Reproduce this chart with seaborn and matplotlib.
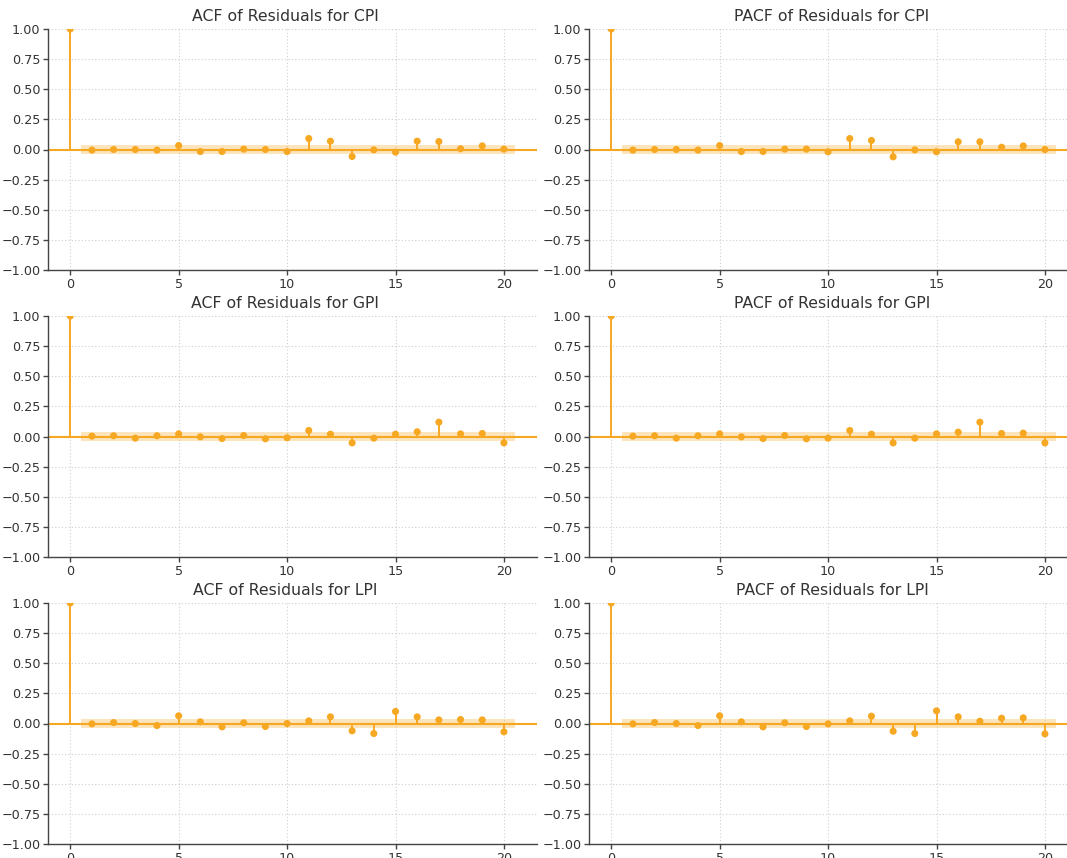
import matplotlib
import numpy as np
import pandas as pd
import seaborn as sns
from matplotlib import pyplot as plt

lags = list(range(0, 21))

acf_cpi = [1.0, -0.005, 0.0, 0.0, -0.005, 0.033, -0.017, -0.017, 0.003, 0.0, -0.017,
           0.091, 0.069, -0.058, -0.003, -0.022, 0.069, 0.066, 0.006, 0.030, 0.003]
pacf_cpi = [1.0, -0.005, 0.0, 0.0, -0.005, 0.033, -0.017, -0.017, 0.003, 0.003, -0.019,
            0.091, 0.075, -0.061, -0.003, -0.019, 0.064, 0.064, 0.019, 0.030, 0.0]
acf_gpi = [1.0, 0.003, 0.006, -0.014, 0.006, 0.022, -0.003, -0.017, 0.008, -0.019, -0.011,
           0.050, 0.019, -0.053, -0.014, 0.019, 0.039, 0.119, 0.022, 0.025, -0.053]
pacf_gpi = [1.0, 0.003, 0.006, -0.014, 0.006, 0.022, -0.003, -0.017, 0.008, -0.019, -0.014,
            0.050, 0.019, -0.053, -0.014, 0.022, 0.036, 0.119, 0.025, 0.028, -0.053]
acf_lpi = [1.0, -0.003, 0.008, 0.0, -0.017, 0.064, 0.014, -0.028, 0.006, -0.025, 0.0,
           0.022, 0.055, -0.061, -0.083, 0.100, 0.055, 0.030, 0.033, 0.030, -0.069]
pacf_lpi = [1.0, -0.003, 0.008, 0.0, -0.017, 0.064, 0.014, -0.028, 0.006, -0.025, -0.003,
            0.022, 0.061, -0.064, -0.083, 0.105, 0.055, 0.019, 0.044, 0.047, -0.086]

conf_band = 0.037

panels = [
    ('ACF of Residuals for CPI', acf_cpi),
    ('PACF of Residuals for CPI', pacf_cpi),
    ('ACF of Residuals for GPI', acf_gpi),
    ('PACF of Residuals for GPI', pacf_gpi),
    ('ACF of Residuals for LPI', acf_lpi),
    ('PACF of Residuals for LPI', pacf_lpi),
]

color = '#F7A823'

sns.set_theme(style='ticks')
plt.rcParams['font.family'] = ['DejaVu Sans']

W, H = 1067, 858
fig = plt.figure(figsize=(W / 100, H / 100), dpi=100)

# axes boxes in pixels (right column runs past the cropped edge, like the reference)
lefts = [48, 589]
tops = [29, 316, 603]
aw, ah = 489, 241
title_x = [0.485, 0.497]

for i, (title, vals) in enumerate(panels):
    row, col = divmod(i, 2)
    ax = fig.add_axes([lefts[col] / W, 1 - (tops[row] + ah) / H, aw / W, ah / H])
    df = pd.DataFrame({'lag': lags, 'value': vals})

    ax.fill_between([0.5, 20.5], -conf_band, conf_band, color=color, alpha=0.3, linewidth=0)
    ax.axhline(0, color=color, linewidth=1.5, zorder=2)
    ax.vlines(df['lag'], 0, df['value'], color=color, linewidth=1.4, zorder=3)
    sns.scatterplot(data=df, x='lag', y='value', ax=ax, color=color, s=26,
                    edgecolor='none', zorder=4)

    ax.set_xlim(-1.025, 21.525)
    ax.set_ylim(-1, 1)
    ax.set_xticks([0, 5, 10, 15, 20])
    ax.set_yticks(np.linspace(-1, 1, 9))
    ax.yaxis.set_major_formatter(plt.FuncFormatter(lambda v, loc: '{:.2f}'.format(v).replace('-', '\u2212')))
    ax.set_xlabel('')
    ax.set_ylabel('')
    ax.set_title(title, fontsize=11.3, color='#333333', pad=6, x=title_x[col])
    ax.grid(True, linestyle=(0, (1, 2)), color='#cfcfcf', linewidth=0.8)
    ax.set_axisbelow(True)
    sns.despine(ax=ax)
    for s in ['left', 'bottom']:
        ax.spines[s].set_color('#444444')
        ax.spines[s].set_linewidth(1.0)
    ax.tick_params('both', labelsize=9.2, colors='#444444', labelcolor='#333333',
                   length=3.5, width=1, pad=2)

plt.savefig('out.png', dpi=100)
